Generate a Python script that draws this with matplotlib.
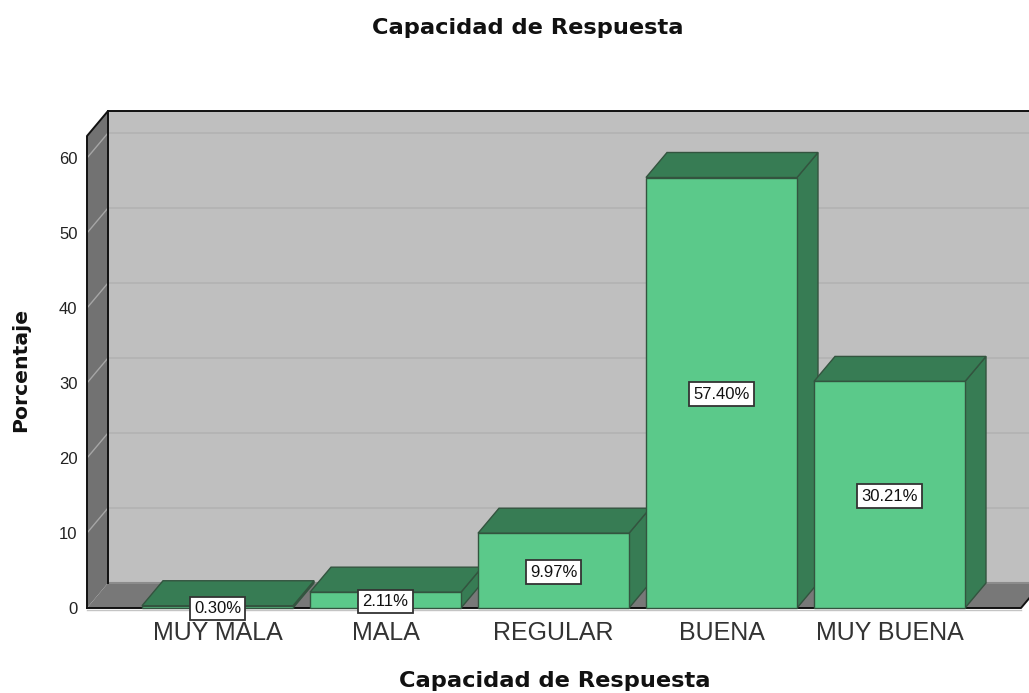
import numpy as np
from matplotlib import pyplot as plt
from matplotlib.patches import Polygon

# Chart values

categories = ['MUY MALA', 'MALA', 'REGULAR', 'BUENA', 'MUY BUENA']
percentages = [0.30, 2.11, 9.97, 57.40, 30.21]
y_ticks = [0, 10, 20, 30, 40, 50, 60]

chart_title = 'Capacidad de Respuesta'
x_label = 'Capacidad de Respuesta'
y_label = 'Porcentaje'

# Colours

wall_color = '#bfbfbf'
grid_color = '#b3b3b3'
side_color = '#727272'
floor_color = '#787878'
bar_color = '#5bc98a'
bar_dark = '#377c54'
edge_color = '#33543f'

plt.rcParams['font.family'] = ['Liberation Sans', 'DejaVu Sans']

# Figure layout in pixels, the axes scales are fitted to these

fig_w, fig_h = 1029, 693
px_per_cat = 168.0
px_per_pct = 7.5
first_cat_px = 217.5
zero_px = 608.0

ax_left, ax_right = 83.0, 1029.0
ax_top, ax_bottom = 108.0, 616.0

fig = plt.figure(figsize=(fig_w / 100, fig_h / 100), dpi=100)
ax = fig.add_axes([ax_left / fig_w, 1 - ax_bottom / fig_h,
                   (ax_right - ax_left) / fig_w, (ax_bottom - ax_top) / fig_h])

ax.set_xlim((ax_left - first_cat_px) / px_per_cat, (ax_right - first_cat_px) / px_per_cat)
ax.set_ylim((zero_px - ax_bottom) / px_per_pct, (zero_px - ax_top) / px_per_pct)

# 3D depth expressed in data units

depth_x = 21.0 / px_per_cat
depth_y = 25.0 / px_per_pct
bar_width = 151.0 / px_per_cat

front_left = (87.0 - first_cat_px) / px_per_cat
front_right = (1021.0 - first_cat_px) / px_per_cat
front_top = (zero_px - 136.0) / px_per_pct

# Back wall, left wall and floor

ax.add_patch(Polygon([(front_left + depth_x, depth_y), (front_right + depth_x, depth_y),
                      (front_right + depth_x, front_top + depth_y), (front_left + depth_x, front_top + depth_y)],
                     facecolor=wall_color, edgecolor='none', zorder=1))

for tick in y_ticks[1:]:
    ax.plot([front_left + depth_x, front_right + depth_x], [tick + depth_y, tick + depth_y],
            color=grid_color, lw=1.3, zorder=1.5)

ax.add_patch(Polygon([(front_left, 0), (front_left + depth_x, depth_y),
                      (front_left + depth_x, front_top + depth_y), (front_left, front_top)],
                     facecolor=side_color, edgecolor='none', zorder=2))

for tick in y_ticks[1:]:
    ax.plot([front_left, front_left + depth_x], [tick, tick + depth_y], color='#a6a6a6', lw=1, zorder=2.2)

ax.add_patch(Polygon([(front_left, 0), (front_right, 0), (front_right + depth_x, depth_y),
                      (front_left + depth_x, depth_y)],
                     facecolor=floor_color, edgecolor='none', zorder=2))
ax.plot([front_left + depth_x, front_right + depth_x], [depth_y, depth_y], color='#8c8c8c', lw=1.5, zorder=2.2)

# Black frame lines

ax.plot([front_left, front_left, front_left + depth_x, front_right + depth_x],
        [0, front_top, front_top + depth_y, front_top + depth_y], color='#111111', lw=1.4, zorder=3)
ax.plot([front_left + depth_x, front_left + depth_x], [depth_y, front_top + depth_y],
        color='#111111', lw=1.4, zorder=3)
ax.plot([front_left, front_right, front_right + depth_x], [0, 0, depth_y], color='#111111', lw=1.4, zorder=3)
ax.plot([front_left, front_right], [-0.3, -0.3], color='#c4c4c4', lw=1, zorder=2.5)

# Bars, each one made of front, side and top faces

positions = np.arange(len(categories))

for pos, val in zip(positions, percentages):
    x0 = pos - bar_width / 2
    x1 = pos + bar_width / 2

    ax.add_patch(Polygon([(x1, 0), (x1 + depth_x, depth_y), (x1 + depth_x, val + depth_y), (x1, val)],
                         facecolor=bar_dark, edgecolor=edge_color, lw=1, zorder=4))
    ax.add_patch(Polygon([(x0, val), (x1, val), (x1 + depth_x, val + depth_y), (x0 + depth_x, val + depth_y)],
                         facecolor=bar_dark, edgecolor=edge_color, lw=1, zorder=4))
    ax.add_patch(Polygon([(x0, 0), (x1, 0), (x1, val), (x0, val)],
                         facecolor=bar_color, edgecolor=edge_color, lw=1, zorder=5))

    ax.annotate('%.2f%%' % val, (pos, val / 2), xytext=(0, -1), textcoords='offset points',
                ha='center', va='center', fontsize=12, color='#111111', zorder=7,
                bbox=dict(boxstyle='square,pad=0.25', facecolor='white', edgecolor='#333333', lw=1.3))

# Axes ticks and labels

ax.set_xticks(positions)
ax.set_xticklabels(categories, fontsize=18, color='#333333')
ax.set_yticks(y_ticks)
ax.set_yticklabels(y_ticks, fontsize=12, color='#222222')
ax.tick_params(axis='both', length=0)
ax.tick_params(axis='x', pad=3.5)
ax.tick_params(axis='y', pad=4)

for spine in ax.spines.values():
    spine.set_visible(False)
ax.patch.set_visible(False)

bold_font = dict(family='DejaVu Sans', fontweight='bold', color='#111111', ha='center', va='center')

fig.text(528 / fig_w, 1 - 28 / fig_h, chart_title, fontsize=16.2, **bold_font)
fig.text(555 / fig_w, 1 - 681 / fig_h, x_label, fontsize=16.2, **bold_font)
fig.text(21 / fig_w, 1 - 370 / fig_h, y_label, rotation=90, fontsize=14.7, **bold_font)

fig.savefig('out.png', dpi=100)
